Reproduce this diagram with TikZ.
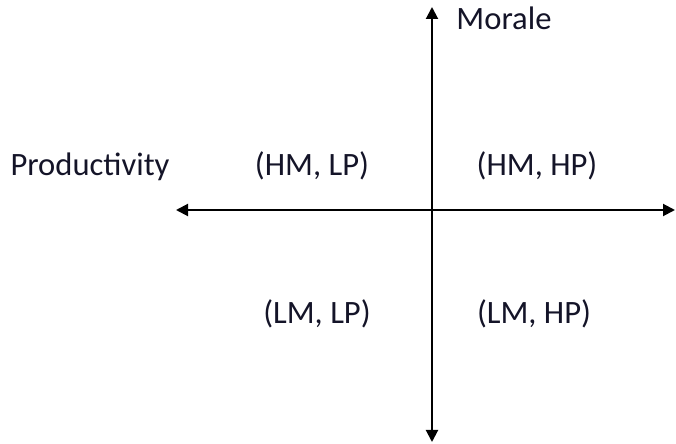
\documentclass[tikz,border=0pt]{standalone}
\usepackage{fontspec}
\setmainfont{Carlito}
\usetikzlibrary{arrows.meta}
\definecolor{textoeje}{RGB}{20,20,40}

\begin{document}
\begin{tikzpicture}[
		x=0.5pt, y=-0.5pt,                          % 1 unidad = 1 pixel
		every node/.style = {
			inner sep=0pt,
			anchor=base,
			text=textoeje,
			font=\fontsize{16.3}{19}\selectfont
		},
		eje/.style = {
			{Triangle[length=6pt,width=6pt]}-{Triangle[length=6pt,width=6pt]},
			line width=1pt
		}
		]
		\useasboundingbox (0,0) rectangle (676,444);
		
		% Extremos de los ejes
		\coordinate (arriba) at (432,7);
		\coordinate (abajo) at (432,442);
		\coordinate (izquierda) at (176,210);
		\coordinate (derecha) at (675,210);
		
		% Ejes
		\draw[eje] (abajo) -- (arriba);
		\draw[eje] (izquierda) -- (derecha);
		
		% Etiquetas de los ejes
		\node (moral) at (504,30) {Morale};
		\node (productividad) at (90,176) {Productivity};
		
		% Cuadrantes
		\node (hmlp) at (312,176) {(HM, LP)};
		\node (hmhp) at (537,176) {(HM, HP)};
		\node (lmlp) at (317,323) {(LM, LP)};
		\node (lmhp) at (534,323) {(LM, HP)};
		
	\end{tikzpicture}
\end{document}
